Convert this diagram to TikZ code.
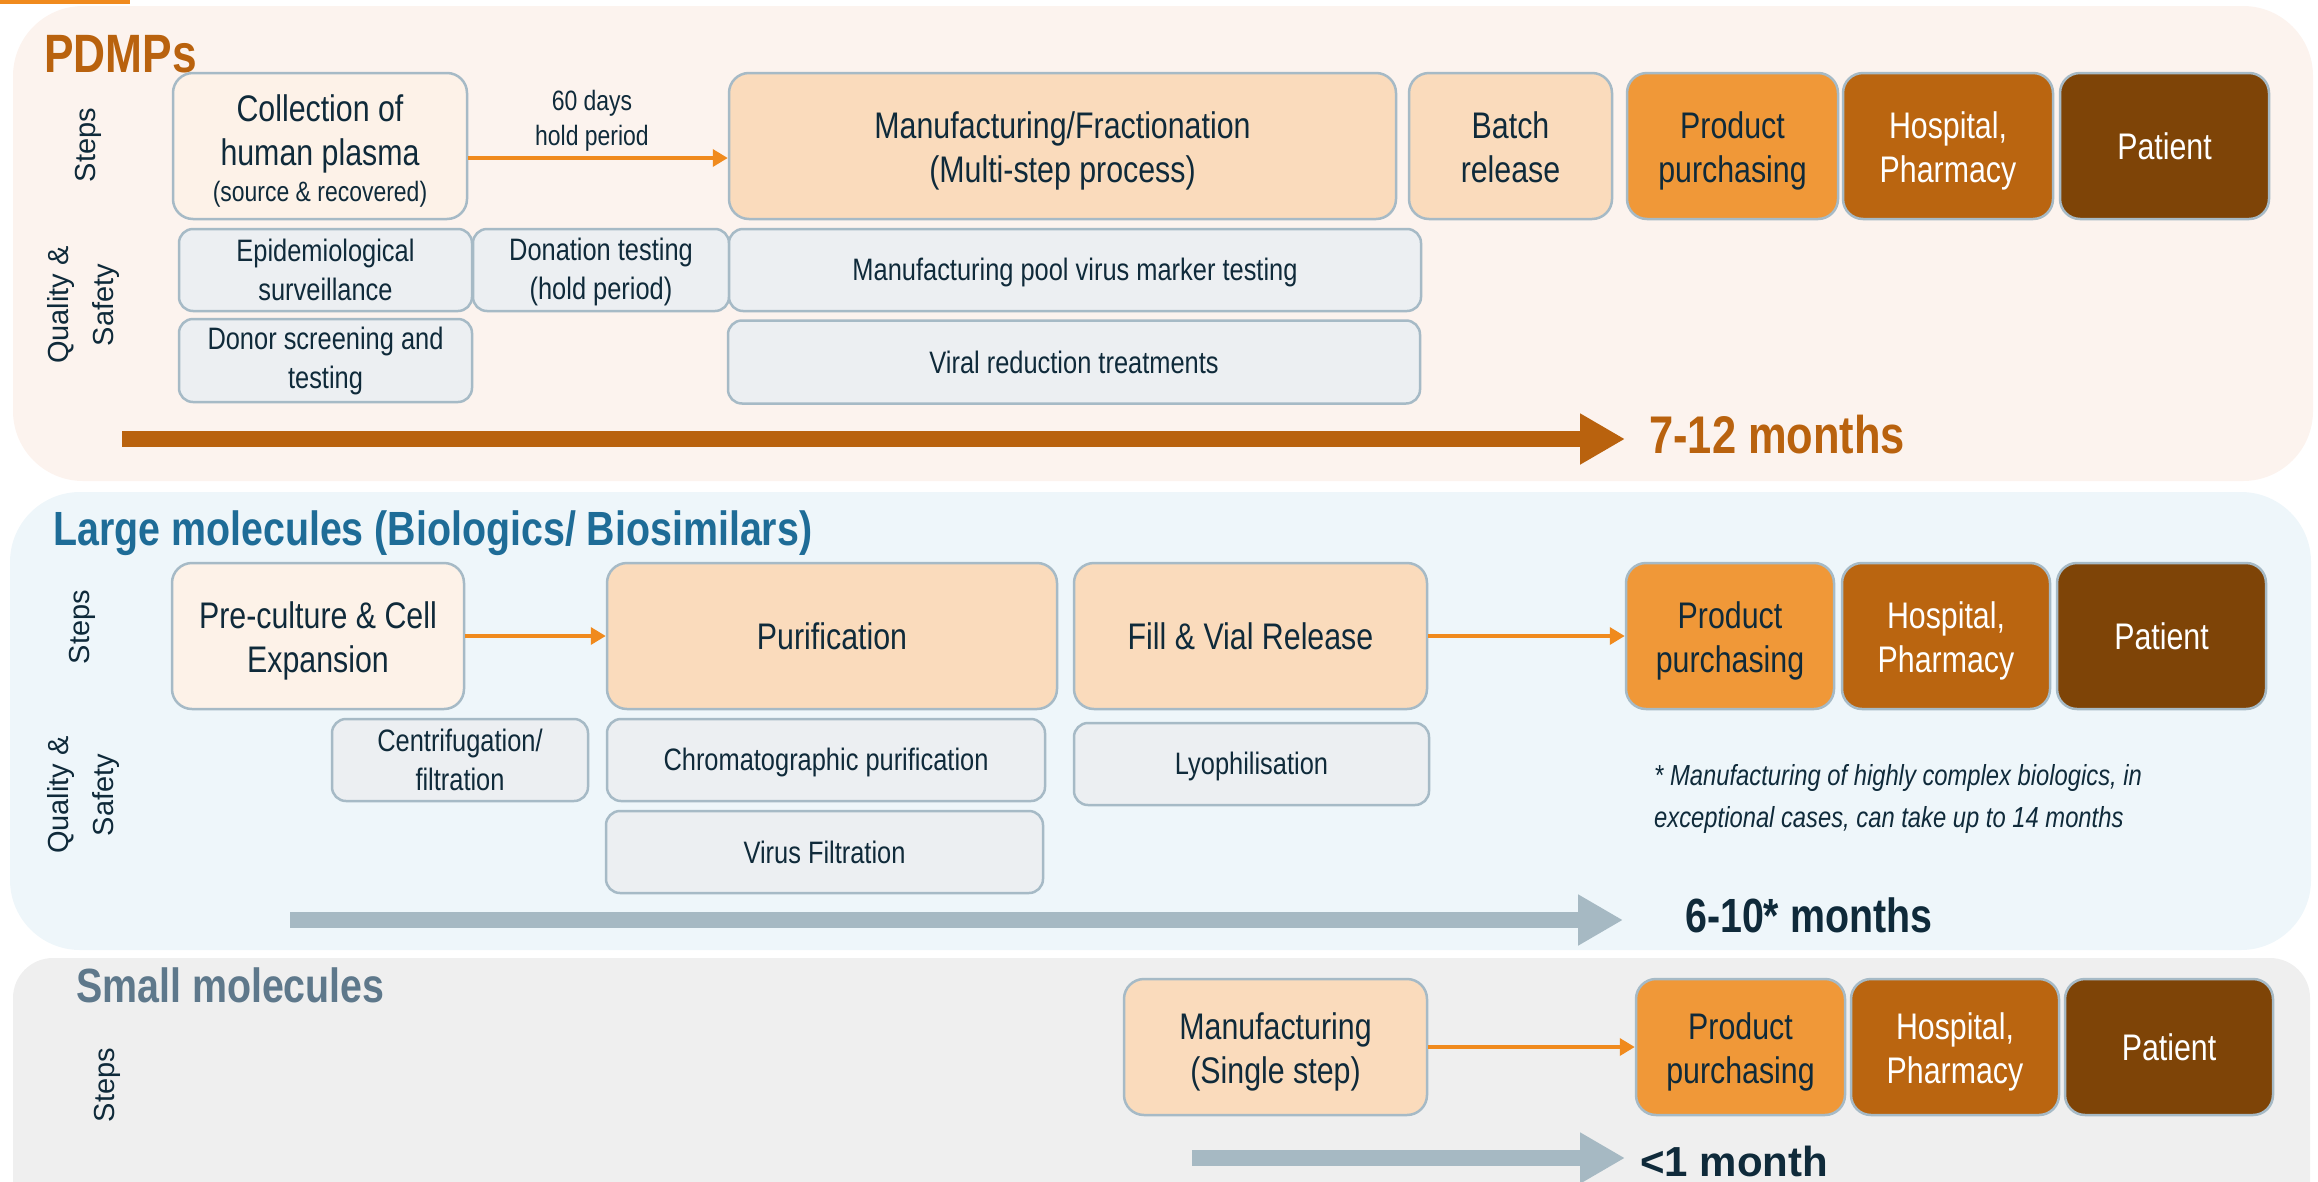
\documentclass[tikz,border=0pt]{standalone}
\usepackage{fontspec}
\setmainfont{Liberation Sans}[FakeStretch=0.82]
\newfontfamily\regfont{Liberation Sans}
\usetikzlibrary{arrows.meta}
\newcommand\tup{\rule{0pt}{36pt}}
\newcommand\tdn{\rule[-8pt]{0pt}{0pt}}
\definecolor{panelA}{HTML}{FCF3EE}
\definecolor{panelB}{HTML}{EEF6FA}
\definecolor{panelC}{HTML}{EFEFEF}
\definecolor{lightc}{HTML}{FDF2E8}
\definecolor{stepc}{HTML}{FADBBC}
\definecolor{qc}{HTML}{ECEFF2}
\definecolor{prodc}{HTML}{F09838}
\definecolor{hospc}{HTML}{BA6510}
\definecolor{patc}{HTML}{7E4407}
\definecolor{bordc}{HTML}{A6BAC6}
\definecolor{txtc}{HTML}{0F2A3A}
\definecolor{arrc}{HTML}{F08A1D}
\definecolor{pdmpc}{HTML}{B9620E}
\definecolor{grayarr}{HTML}{A6B9C3}
\definecolor{largec}{HTML}{1E6C97}
\definecolor{smallc}{HTML}{5E788B}
\tikzset{
  stepbox/.style={draw=bordc, line width=2.5pt, rounded corners=20pt, fill=stepc, text=txtc,
    align=center, inner sep=0pt, font=\fontsize{37}{44}\selectfont},
  lightbox/.style={stepbox, fill=lightc},
  prodbox/.style={stepbox, fill=prodc},
  hospbox/.style={stepbox, fill=hospc, text=white},
  patbox/.style={stepbox, fill=patc, text=white},
  qbox/.style={draw=bordc, line width=2.5pt, rounded corners=14pt, fill=qc, text=txtc,
    align=center, inner sep=0pt, font=\fontsize{31}{39}\selectfont},
  conn/.style={draw=arrc, line width=3.5pt, -{Triangle[length=15pt,width=17pt]}},
  timeline/.style={line width=16pt, -{Triangle[length=45pt,width=48pt]}},
  sidelbl/.style={rotate=90, font=\regfont\fontsize{29}{45}\selectfont, text=txtc, align=center, inner sep=0pt},
  title/.style={anchor=base west, inner sep=0pt, font=\bfseries\fontsize{54}{60}\selectfont},
}
\begin{document}
\begin{tikzpicture}[x=1pt, y=-1pt]
\useasboundingbox (0,0) rectangle (2318,1181);
\begin{scope}
\clip (0,0) rectangle (2318,1181);
% panels
\fill[arrc] (0,0) rectangle (130,4);
\fill[panelA, rounded corners=70pt] (13,6) rectangle (2313,481);
\fill[panelB, rounded corners=70pt] (10,492) rectangle (2311,950);
\fill[panelC, rounded corners=40pt] (13,958) rectangle (2310,1240);
\end{scope}

% ================= PDMPs =================
\node[title, text=pdmpc] (t1) at (44,72) {PDMPs};
\node[sidelbl] (s1) at (88,145) {Steps};
\node[sidelbl] (q1) at (84,305) {Quality \&\\Safety};

\node[lightbox, minimum width=294pt, minimum height=146pt] (coll) at (320,146)
  {\tup Collection of\\human plasma\\[-8pt]{\fontsize{28}{35}\selectfont (source \& recovered)}};
\node[stepbox, minimum width=667pt, minimum height=146pt] (mfr) at (1062.5,146)
  {\tup Manufacturing/Fractionation\\(Multi-step process)};
\node[stepbox, minimum width=203pt, minimum height=146pt] (batch) at (1510.5,146) {\tup Batch\\release\tdn};
\node[prodbox, minimum width=211pt, minimum height=146pt] (prod1) at (1732.5,146) {\tup Product\\purchasing};
\node[hospbox, minimum width=210pt, minimum height=146pt] (hosp1) at (1948,146) {\tup Hospital,\\Pharmacy};
\node[patbox, minimum width=209pt, minimum height=146pt] (pat1) at (2164.5,146) {Patient};

\draw[conn] ([yshift=-12pt]coll.east) -- ([yshift=-12pt]mfr.west);
\node[align=center, inner sep=0pt, text=txtc, font=\fontsize{28}{35}\selectfont] (hold) at (592,121)
  {60 days\\hold period};

\node[qbox, minimum width=293pt, minimum height=82pt] (epi) at (325.5,270) {Epidemiological\\surveillance};
\node[qbox, minimum width=256pt, minimum height=82pt] (don) at (601,270) {\rule{0pt}{26pt}Donation testing\\(hold period)};
\node[qbox, minimum width=692pt, minimum height=82pt] (pool) at (1075,270) {\rule{0pt}{27pt}Manufacturing pool virus marker testing};
\node[qbox, minimum width=293pt, minimum height=83pt] (donor) at (325.5,360.5) {Donor screening and\\testing};
\node[qbox, minimum width=692pt, minimum height=83pt] (viral) at (1074,362) {Viral reduction treatments};

\coordinate (a1s) at (122,439);
\coordinate (a1e) at (1625,439);
\draw[timeline, pdmpc] (a1s) -- (a1e);
\node[anchor=base west, inner sep=0pt, text=pdmpc, font=\bfseries\fontsize{53}{60}\selectfont] (m1) at (1649,453) {7-12 months};

% ================= Large molecules =================
\node[title, text=largec, font=\bfseries\fontsize{48}{55}\selectfont] (t2) at (53,545) {Large molecules (Biologics/ Biosimilars)};
\node[sidelbl] (s2) at (82,627) {Steps};
\node[sidelbl] (q2) at (84,795) {Quality \&\\Safety};

\node[lightbox, minimum width=292pt, minimum height=146pt] (pre) at (318,636) {\tup Pre-culture \& Cell\\Expansion};
\node[stepbox, minimum width=450pt, minimum height=146pt] (pur) at (832,636) {Purification};
\node[stepbox, minimum width=353pt, minimum height=146pt] (fill) at (1250.5,636) {Fill \& Vial Release};
\node[prodbox, minimum width=208pt, minimum height=146pt] (prod2) at (1730,636) {\tup Product\\purchasing};
\node[hospbox, minimum width=208pt, minimum height=146pt] (hosp2) at (1946,636) {\tup Hospital,\\Pharmacy};
\node[patbox, minimum width=209pt, minimum height=146pt] (pat2) at (2161.5,636) {Patient};

\draw[conn] (pre.east) -- (pur.west);
\draw[conn] (fill.east) -- (prod2.west);

\node[qbox, minimum width=256pt, minimum height=82pt] (cen) at (460,760) {Centrifugation/\\filtration};
\node[qbox, minimum width=438pt, minimum height=82pt] (chr) at (826,760) {\rule{0pt}{27pt}Chromatographic purification};
\node[qbox, minimum width=437pt, minimum height=82pt] (vir) at (824.5,852) {Virus Filtration};
\node[qbox, minimum width=355pt, minimum height=82pt] (lyo) at (1251.5,764) {\rule{0pt}{27pt}Lyophilisation};

\node[anchor=west, align=left, inner sep=0pt, text=txtc, font=\itshape\fontsize{29}{42}\selectfont] (note) at (1654,799)
  {* Manufacturing of highly complex biologics, in\\exceptional cases, can take up to 14 months};

\coordinate (a2s) at (290,920);
\coordinate (a2e) at (1623,920);
\draw[timeline, grayarr] (a2s) -- (a2e);
\node[anchor=base west, inner sep=0pt, text=txtc, font=\bfseries\fontsize{48}{55}\selectfont] (m2) at (1685,932) {6-10* months};

% ================= Small molecules =================
\node[title, text=smallc, font=\bfseries\fontsize{48}{55}\selectfont] (t3) at (76,1002) {Small molecules};
\node[sidelbl] (s3) at (107,1085) {Steps};

\node[stepbox, minimum width=303pt, minimum height=136pt] (man) at (1275.5,1047) {\tup Manufacturing\\(Single step)};
\node[prodbox, minimum width=209pt, minimum height=136pt] (prod3) at (1740.5,1047) {\tup Product\\purchasing};
\node[hospbox, minimum width=208pt, minimum height=136pt] (hosp3) at (1955,1047) {\tup Hospital,\\Pharmacy};
\node[patbox, minimum width=208pt, minimum height=136pt] (pat3) at (2169,1047) {Patient};

\draw[conn] (man.east) -- (prod3.west);

\coordinate (a3s) at (1192,1158);
\coordinate (a3e) at (1625,1158);
\draw[timeline, grayarr] (a3s) -- (a3e);
\node[anchor=base west, inner sep=0pt, text=txtc, font=\regfont\bfseries\fontsize{42}{50}\selectfont] (m3) at (1640,1176) {<1 month};
\end{tikzpicture}
\end{document}
